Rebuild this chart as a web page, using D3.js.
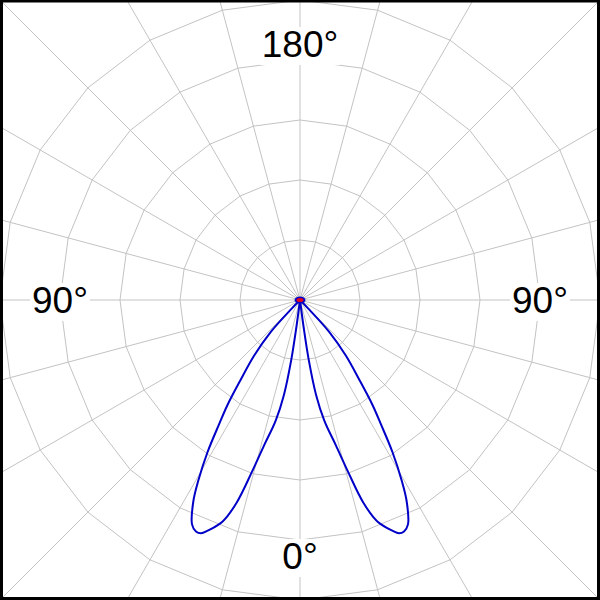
<!DOCTYPE html>
<html>
<head>
<meta charset="utf-8">
<script src="https://cdn.jsdelivr.net/npm/d3@7"></script>
<style>
  html, body { margin: 0; padding: 0; background: #fff; }
  svg { display: block; }
</style>
</head>
<body>
<script>
// ---- data ----
// signed angle (degrees, 0 = down, positive = right side), relative level (outer circle = 1)
const patternAngles = [-46, -44, -42.5, -39.5, -36.6, -34.6, -33.1, -31.3, -29.4, -27.9, -25.7, -24.2, -23, -21.8, -19.3, -17.4, -15.6, -13.9, -11.4, -9.6, -8.3, -7.6, -7.3,
                        7.3, 7.6, 8.3, 9.6, 11.4, 13.9, 15.6, 17.4, 19.3, 21.8, 23, 24.2, 25.7, 27.9, 29.4, 31.3, 33.1, 34.6, 36.6, 39.5, 42.5, 44, 46];
const patternValues = [0, 0.04, 0.143, 0.24, 0.333, 0.427, 0.493, 0.593, 0.69, 0.76, 0.83, 0.846, 0.845, 0.828, 0.783, 0.71, 0.593, 0.5, 0.41, 0.32, 0.2, 0.09, 0,
                        0, 0.09, 0.2, 0.32, 0.41, 0.5, 0.593, 0.71, 0.783, 0.828, 0.845, 0.846, 0.83, 0.76, 0.69, 0.593, 0.493, 0.427, 0.333, 0.24, 0.143, 0.04, 0];
const ringValues = [0.2, 0.4, 0.6, 0.8, 1.0];
const spokeAngles = d3.range(0, 360, 15);
const labelAngles = [180, 90, -90, 0];
const labelTexts = ["180°", "90°", "90°", "0°"];

// ---- layout ----
const W = 600, H = 600, cx = 300, cy = 300, R = 300;
const rScale = d3.scaleLinear().domain([0, 1]).range([0, R]);
const toRad = a => (180 - a) * Math.PI / 180; // d3 radial angle (0 = up, clockwise)

const svg = d3.select("body").append("svg").attr("width", W).attr("height", H);
svg.append("rect").attr("width", W).attr("height", H).attr("fill", "#fff");

const g = svg.append("g").attr("transform", `translate(${cx},${cy})`);

// spokes
g.selectAll("line.spoke").data(spokeAngles).enter().append("line")
  .attr("x1", 0).attr("y1", 0)
  .attr("x2", d => 460 * Math.sin(d * Math.PI / 180))
  .attr("y2", d => -460 * Math.cos(d * Math.PI / 180))
  .attr("stroke", "#c3c3c3").attr("stroke-width", 1);

// rings as 24-gons
const ringLine = d3.lineRadial().angle(d => d[0] * Math.PI / 180).radius(d => d[1]).curve(d3.curveLinearClosed);
g.selectAll("path.ring").data(ringValues).enter().append("path")
  .attr("d", v => ringLine(spokeAngles.map(a => [a, rScale(v)])))
  .attr("fill", "none").attr("stroke", "#c3c3c3").attr("stroke-width", 1);

// labels with white boxes
const labelR = { x: 240, y: 256 };
const lab = g.selectAll("g.lab").data(labelAngles.map((a, i) => ({ a, t: labelTexts[i] }))).enter().append("g");
lab.each(function(d) {
  const s = d3.select(this);
  const ang = toRad(d.a);
  const x = labelR.x * Math.sin(ang), y = -labelR.y * Math.cos(ang);
  const t = s.append("text")
    .attr("x", x).attr("y", y + 13)
    .attr("text-anchor", "middle")
    .attr("font-family", "Liberation Sans, Arial, sans-serif")
    .attr("font-size", 37)
    .attr("fill", "#000")
    .text(d.t);
  const bb = t.node().getBBox();
  s.insert("rect", "text")
    .attr("x", bb.x - 2).attr("y", bb.y + 3)
    .attr("width", bb.width + 4).attr("height", bb.height - 3)
    .attr("fill", "#fff");
});

// pattern
const line = d3.lineRadial()
  .angle((d, i) => toRad(patternAngles[i]))
  .radius(d => rScale(d))
  .curve(d3.curveCatmullRom.alpha(0.5));
g.append("path")
  .attr("d", line(patternValues))
  .attr("fill", "none")
  .attr("stroke", "#0000c8")
  .attr("stroke-width", 2)
  .attr("stroke-linejoin", "round");

// center marker
g.append("ellipse").attr("rx", 5.5).attr("ry", 3.5).attr("fill", "#0000c8");
g.append("ellipse").attr("rx", 3.5).attr("ry", 2).attr("fill", "#e00020");

// frame
svg.append("rect").attr("x", 1.5).attr("y", 1).attr("width", W - 3).attr("height", H - 2.5)
  .attr("fill", "none").attr("stroke", "#000").attr("stroke-width", 3);
</script>
</body>
</html>
